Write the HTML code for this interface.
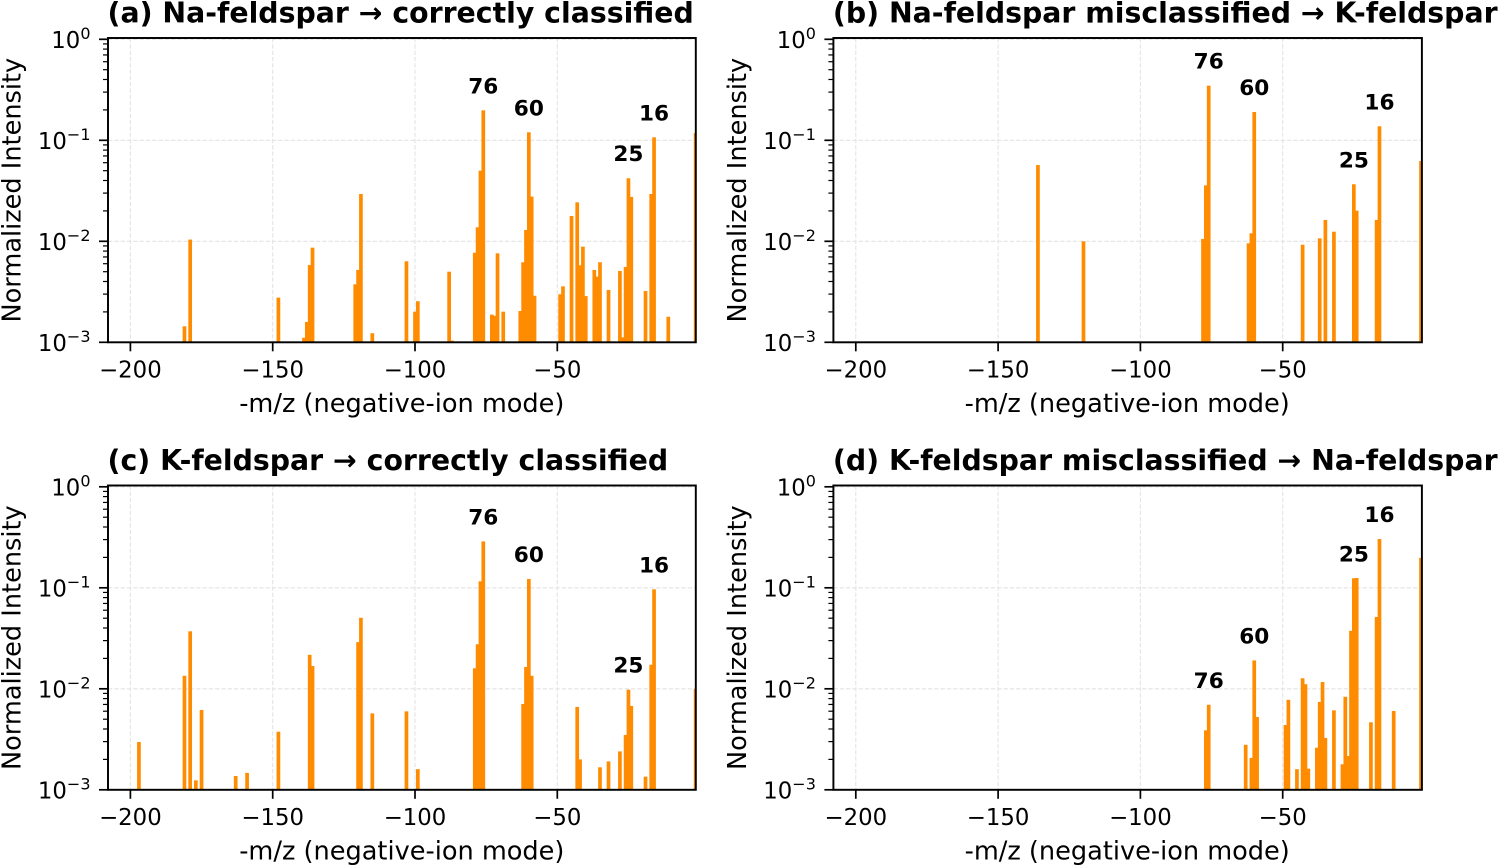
<!DOCTYPE html>
<html lang="en">
<head>
<meta charset="utf-8">
<title>Feldspar negative-ion spectra</title>
<style>
html,body{margin:0;padding:0;background:#fff;width:1499px;height:866px;overflow:hidden}
svg{display:block}
text{font-family:"DejaVu Sans","Liberation Sans",sans-serif;fill:#000}
</style>
</head>
<body>
<svg id="figure" xmlns="http://www.w3.org/2000/svg" width="1499" height="866" viewBox="0 0 1499 866"></svg>
<script>
const xTicks = [-200, -150, -100, -50];
const yTickExponents = [0, -1, -2, -3];
const yMinorMultipliers = [2, 3, 4, 5, 6, 7, 8, 9];
const peakLabels = [76, 60, 25, 16];

const titleA = "(a) Na-feldspar → correctly classified";
const mzA = [181,179,148,139,138,137,136,121,120,119,115,103,100,99,88,87,79,78,77,76,73,72,71,69,63,62,61,60,59,58,49,48,45,43,42,41,40,37,36,35,32,28,27,26,25,24,19,17,16,11,1.4];
const intensityA = [0.00144,0.0104,0.00277,0.00111,0.00159,0.00582,0.00865,0.00375,0.0052,0.0294,0.00123,0.00634,0.00201,0.00255,0.0050,0.00104,0.0077,0.01377,0.0500,0.198,0.00188,0.00183,0.0076,0.00201,0.00204,0.0062,0.01294,0.120,0.0277,0.00289,0.00299,0.00358,0.0178,0.0243,0.00578,0.00885,0.00287,0.0052,0.00447,0.0062,0.0033,0.00508,0.00112,0.00557,0.0421,0.0275,0.00322,0.0294,0.107,0.00179,0.118];

const titleB = "(b) Na-feldspar misclassified → K-feldspar";
const mzB = [136,120,78,77,76,62,61,60,43,37,35,32,25,24,17,16,1.4];
const intensityB = [0.0569,0.0100,0.01055,0.0358,0.3476,0.00955,0.012,0.1905,0.00925,0.0107,0.01626,0.01245,0.0367,0.0201,0.01626,0.1377,0.0624];

const titleC = "(c) K-feldspar → correctly classified";
const mzC = [197,181,179,177,175,163,159,148,137,136,120,119,115,103,99,79,78,77,76,62,61,60,59,43,42,35,32,28,26,25,24,19,17,16,1.4];
const intensityC = [0.00297,0.01346,0.0371,0.00124,0.00617,0.00137,0.00147,0.00376,0.0217,0.0168,0.0290,0.0505,0.00571,0.00598,0.0016,0.01596,0.0276,0.116,0.288,0.00708,0.01644,0.1222,0.01346,0.00661,0.0020,0.00167,0.00191,0.0024,0.00349,0.0098,0.00676,0.00135,0.0173,0.0966,0.0100];

const titleD = "(d) K-feldspar misclassified → Na-feldspar";
const mzD = [77,76,63,61,60,59,49,48,45,43,42,41,38,37,36,35,32,29,28,27,26,25,24,19,17,16,11,1.4];
const intensityD = [0.00388,0.00695,0.00279,0.00207,0.0191,0.00526,0.00438,0.00778,0.0016,0.01271,0.0111,0.00162,0.00261,0.0074,0.01167,0.00326,0.00612,0.00179,0.00834,0.00216,0.0375,0.1243,0.125,0.00466,0.0514,0.304,0.00603,0.198];

const xAxisTitle = "-m/z (negative-ion mode)";
const yAxisTitle = "Normalized Intensity";

const NS = "http://www.w3.org/2000/svg";
const svg = document.getElementById("figure");

function mk(parent, tag, attrs, txt) {
  const el = document.createElementNS(NS, tag);
  for (const k in attrs) el.setAttribute(k, attrs[k]);
  if (txt !== undefined) el.textContent = txt;
  parent.appendChild(el);
  return el;
}

function drawPanel(key, title, mz, intensity, dx, dy) {
  const L = 108 + dx, R = 695.8 + dx + (dx > 0 ? 0.7 : 0), T = 38 + dy, B = 342.3 + dy;
  const xs = m => 130.4 + dx + (m + 200) * 2.846;
  const ys = v => B - 101 * (Math.log10(v) + 3);
  const cx = 401.8 + dx;

  const g = mk(svg, "g", {});
  
  

  const clip = mk(g, "clipPath", { id: "clip-" + key });
  mk(clip, "rect", { x: L, y: T, width: R - L, height: B - T });

  const t = mk(g, "text", { x: 107.5 + dx, y: 22.7 + dy, "font-size": 28.35, "font-weight": "bold" }, title);
  
  

  // grid
  xTicks.forEach(v => {
    const gl = mk(g, "line", { x1: xs(v), x2: xs(v), y1: T, y2: B, stroke: "#e4e4e4", "stroke-width": 1.1, "stroke-dasharray": "4.4 1.9" });
    
    
  });
  yTickExponents.forEach(e => {
    const gl = mk(g, "line", { x1: L, x2: R, y1: ys(Math.pow(10, e)), y2: ys(Math.pow(10, e)), stroke: "#e4e4e4", "stroke-width": 1.1, "stroke-dasharray": "4.4 1.9" });
    
    
  });

  // bars
  const barGroup = mk(g, "g", { "clip-path": "url(#clip-" + key + ")" });
  
  
  const w = 1.3 * 2.846;
  mz.forEach((m, i) => {
    const top = ys(intensity[i]);
    const bar = mk(barGroup, "rect", { x: xs(-m) - w / 2, y: top, width: w, height: B - top, fill: "#ff8c00" });
    
    
  });

  // peak labels
  peakLabels.forEach(p => {
    const idx = mz.indexOf(p);
    if (idx < 0) return;
    const lab = mk(g, "text", { x: xs(-p), y: ys(intensity[idx]) - 17, "font-size": 21.6, "font-weight": "bold", "text-anchor": "middle" }, String(p));
    
    
  });

  // frame
  const frame = mk(g, "rect", { x: L, y: T, width: R - L, height: B - T, fill: "none", stroke: "#000", "stroke-width": 1.95 });
  
  

  // x ticks
  xTicks.forEach(v => {
    const tk = mk(g, "line", { x1: xs(v), x2: xs(v), y1: B, y2: B + 9, stroke: "#000", "stroke-width": 1.7 });
    
    
    const tl = mk(g, "text", { x: xs(v), y: B + 35, "font-size": 22.8, "text-anchor": "middle" }, "\u2212" + Math.abs(v));
    
    
  });

  // y ticks
  yTickExponents.forEach(e => {
    const y = ys(Math.pow(10, e));
    const tk = mk(g, "line", { x1: L - 9, x2: L, y1: y, y2: y, stroke: "#000", "stroke-width": 1.7 });
    
    
    const tl = mk(g, "text", { x: L - 17.5, y: y + 8.6, "font-size": 22.8, "text-anchor": "end" }, "10");
    const sup = mk(tl, "tspan", { dy: -8.8, "font-size": 16 }, e === 0 ? "0" : "\u2212" + Math.abs(e));
    
    
    
    
    if (e > -3) {
      yMinorMultipliers.forEach(mult => {
        const my = ys(mult * Math.pow(10, e - 1));
        const mt = mk(g, "line", { x1: L - 5, x2: L, y1: my, y2: my, stroke: "#000", "stroke-width": 1.2 });
        
        
      });
    }
  });

  // axis titles
  const xl = mk(g, "text", { x: cx, y: 412 + dy, "font-size": 25.6, "text-anchor": "middle" }, xAxisTitle);
  
  
  const yx = 20.5 + dx, yy = (T + B) / 2;
  const yl = mk(g, "text", { x: yx, y: yy, "font-size": 25.6, "text-anchor": "middle", transform: "rotate(-90 " + yx + " " + yy + ")" }, yAxisTitle);
  
  
}

drawPanel("a", titleA, mzA, intensityA, 0, 0);
drawPanel("b", titleB, mzB, intensityB, 725.4, 0);
drawPanel("c", titleC, mzC, intensityC, 0, 447.5);
drawPanel("d", titleD, mzD, intensityD, 725.4, 447.5);
</script>
</body>
</html>
